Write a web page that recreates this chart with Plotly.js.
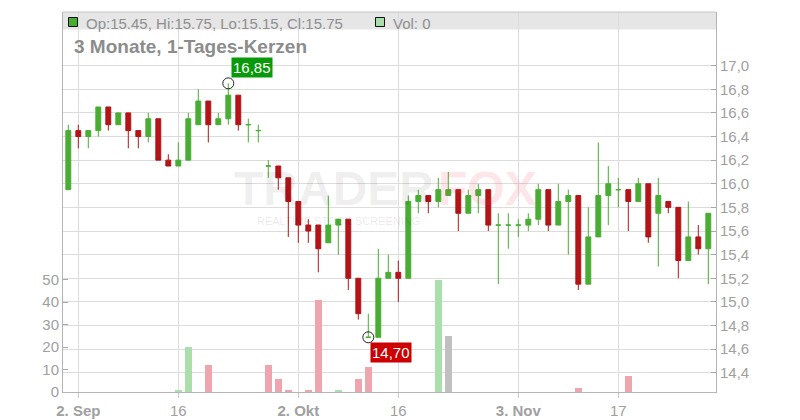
<!DOCTYPE html>
<html>
<head>
<meta charset="utf-8">
<script src="https://cdn.plot.ly/plotly-3.0.1.min.js"></script>
<style>html,body{margin:0;padding:0;background:#fff;}#chart{width:800px;height:420px;}</style>
</head>
<body>
<div id="chart"></div>
<script>
// ---- data ----
const dates = [
 "2025-09-01","2025-09-02","2025-09-03","2025-09-04","2025-09-05",
 "2025-09-08","2025-09-09","2025-09-10","2025-09-11","2025-09-12",
 "2025-09-15","2025-09-16","2025-09-17","2025-09-18","2025-09-19",
 "2025-09-22","2025-09-23","2025-09-24","2025-09-25","2025-09-26",
 "2025-09-29","2025-09-30","2025-10-01","2025-10-02","2025-10-03",
 "2025-10-06","2025-10-07","2025-10-08","2025-10-09","2025-10-10",
 "2025-10-13","2025-10-14","2025-10-15","2025-10-16","2025-10-17",
 "2025-10-20","2025-10-21","2025-10-22","2025-10-23","2025-10-24",
 "2025-10-27","2025-10-28","2025-10-29","2025-10-30","2025-10-31",
 "2025-11-03","2025-11-04","2025-11-05","2025-11-06","2025-11-07",
 "2025-11-10","2025-11-11","2025-11-12","2025-11-13","2025-11-14",
 "2025-11-17","2025-11-18","2025-11-19","2025-11-20","2025-11-21",
 "2025-11-24","2025-11-25","2025-11-26","2025-11-27","2025-11-28"];
const opens = [15.95,16.45,16.4,16.45,16.65,16.5,16.6,16.45,16.4,16.55,
 16.2,16.15,16.2,16.5,16.7,16.5,16.55,16.75,16.5,16.45,
 16.15,16.15,16.05,15.85,15.65,15.65,15.5,15.65,15.7,15.2,
 14.7,14.7,15.2,15.25,15.2,15.85,15.9,15.85,15.9,15.95,
 15.75,15.9,15.95,15.65,15.65,15.65,15.65,15.7,15.95,15.65,
 15.85,15.9,15.15,15.55,15.9,15.95,15.95,15.85,16.0,15.75,
 15.85,15.8,15.35,15.55,15.45];
const highs = [16.5,16.5,16.45,16.65,16.65,16.6,16.6,16.45,16.6,16.55,
 16.25,16.35,16.6,16.8,16.7,16.6,16.85,16.75,16.55,16.5,
 16.2,16.15,16.05,15.85,15.7,15.65,15.9,15.7,15.7,15.2,
 14.9,15.45,15.4,15.35,15.9,15.95,15.9,16.05,16.1,15.95,
 15.95,16.0,15.95,15.75,15.75,15.7,15.75,16.0,15.95,16.0,
 15.95,15.9,15.8,16.35,16.15,16.05,15.95,16.05,16.0,16.05,
 15.85,15.8,15.85,15.65,15.75];
const lows = [15.95,16.3,16.3,16.4,16.45,16.5,16.3,16.3,16.35,16.2,
 16.15,16.15,16.2,16.5,16.35,16.5,16.5,16.45,16.35,16.35,
 16.05,15.95,15.55,15.5,15.5,15.25,15.5,15.4,15.1,14.85,
 14.7,14.7,15.2,15.0,15.2,15.75,15.75,15.8,15.9,15.6,
 15.75,15.75,15.6,15.15,15.45,15.55,15.6,15.65,15.6,15.65,
 15.4,15.1,15.15,15.55,15.65,15.8,15.6,15.85,15.5,15.3,
 15.75,15.2,15.35,15.4,15.15];
const closes = [16.45,16.4,16.45,16.65,16.5,16.6,16.45,16.4,16.55,16.2,
 16.15,16.2,16.55,16.7,16.5,16.55,16.75,16.5,16.5,16.45,
 16.15,16.05,15.85,15.65,15.6,15.45,15.65,15.7,15.2,14.9,
 14.7,15.2,15.25,15.2,15.85,15.9,15.85,15.95,15.95,15.75,
 15.9,15.95,15.65,15.65,15.65,15.65,15.7,15.95,15.65,15.85,
 15.9,15.15,15.55,15.9,16.0,15.95,15.85,16.0,15.55,15.9,
 15.8,15.35,15.55,15.45,15.75];
const volumes = [0,0,0,0,0,0,0,0,0,0,
 0,1,20,0,12,0,0,0,0,0,
 12,6,1,0,1,41,0,1,0,6,
 11,0,0,0,0,0,0,50,25,0,
 0,0,0,0,0,0,0,0,0,0,
 0,2,0,0,0,0,7,0,0,0,
 0,0,0,0,0];
const xTickIdx = [1, 11, 23, 33, 45, 55];
const xTickLabels = ["2. Sep", "16", "2. Okt", "16", "3. Nov", "17"];
const xTickIsMonth = [true, false, true, false, true, false];
const priceTicks = [14.4,14.6,14.8,15.0,15.2,15.4,15.6,15.8,16.0,16.2,16.4,16.6,16.8,17.0];
const volTicks = [0,10,20,30,40,50];
const chartTitle = "3 Monate, 1-Tages-Kerzen";
const hiIdx = 16, loIdx = 30;

// ---- styles ----
const GREEN = "#49ad33", RED = "#b21417";
const VGREEN = "#aadeaa", VRED = "#eea5ad", VGRAY = "#c0c0c0";
const GRID = "#dcdcdc", AXIS = "#b4b4b4", TXT = "#a0a0a0";
const FONT = "'Liberation Sans', Arial, sans-serif";

function pick(cond) {
  const o = {x:[],open:[],high:[],low:[],close:[]};
  dates.forEach((d,i)=>{ if(cond(i)){o.x.push(d);o.open.push(opens[i]);o.high.push(highs[i]);o.low.push(lows[i]);o.close.push(closes[i]);} });
  return o;
}
const up = pick(i => closes[i] >= opens[i]);
const dn = pick(i => closes[i] < opens[i]);
function candle(d, col){
  return Object.assign({type:'candlestick', xaxis:'x', yaxis:'y', whiskerwidth:0,
    increasing:{line:{color:col,width:1}, fillcolor:col},
    decreasing:{line:{color:col,width:1}, fillcolor:col},
    hoverinfo:'skip', showlegend:false}, d);
}
const volColors = volumes.map((v,i)=> i===0 ? VGREEN : (closes[i]>closes[i-1] ? VGREEN : (closes[i]<closes[i-1] ? VRED : VGRAY)));
const fmt = v => v.toFixed(2).replace('.', ',');

const traces = [
  {type:'bar', x:dates, y:volumes, yaxis:'y2', marker:{color:volColors, line:{width:0}}, width:0.67, hoverinfo:'skip', showlegend:false},
  candle(up, GREEN),
  candle(dn, RED),
  {type:'scatter', mode:'markers', x:[dates[hiIdx], dates[loIdx]], y:[highs[hiIdx], lows[loIdx]],
   marker:{symbol:'circle-open', size:11, color:'#222', line:{width:1, color:'#222'}}, hoverinfo:'skip', showlegend:false}
];

const last = dates.length - 1;
const legendText = "Op:" + opens[last].toFixed(2) + ", Hi:" + highs[last].toFixed(2) + ", Lo:" + lows[last].toFixed(2) + ", Cl:" + closes[last].toFixed(2);

const layout = {
  width:800, height:420,
  margin:{l:63, r:84, t:12, b:28, pad:0},
  paper_bgcolor:'#fff', plot_bgcolor:'#fff',
  font:{family:FONT, color:TXT, size:15},
  showlegend:false, bargap:0,
  xaxis:{type:'category', categoryorder:'array', categoryarray:dates, range:[-0.53, 64.77],
    tickvals:xTickIdx.map(i=>dates[i]),
    ticktext:xTickLabels.map((t,k)=> xTickIsMonth[k] ? '<b>'+t+'</b>' : t),
    showgrid:true, gridcolor:GRID, gridwidth:1, ticks:'outside', ticklen:5, tickcolor:'#c8c8c8',
    showline:true, linecolor:AXIS, linewidth:1, zeroline:false, rangeslider:{visible:false},
    tickfont:{size:15, color:TXT, family:FONT}, fixedrange:true},
  yaxis:{side:'right', range:[14.237, 17.454], tickvals:priceTicks, ticktext:priceTicks.map(v=>v.toFixed(1).replace('.',',')),
    showgrid:true, gridcolor:GRID, gridwidth:1, ticks:'inside', ticklen:5, tickcolor:'#a8a8a8',
    showline:true, linecolor:AXIS, linewidth:1, zeroline:false, tickfont:{size:15, color:TXT, family:FONT}},
  yaxis2:{overlaying:'y', side:'left', range:[0, 169.3], tickvals:volTicks, ticktext:volTicks.map(String),
    showgrid:false, ticks:'inside', ticklen:5, tickcolor:'#a8a8a8',
    showline:true, linecolor:AXIS, linewidth:1, zeroline:false, tickfont:{size:15, color:TXT, family:FONT}},
  shapes:[
    {type:'rect', layer:'below', xref:'paper', x0:0, x1:1, yref:'paper', ysizemode:'pixel', yanchor:1, y0:-17.5, y1:0,
     fillcolor:'#e6e6e6', line:{width:0}},
    {type:'line', layer:'above', xref:'paper', x0:0, x1:1, yref:'paper', y0:1, y1:1, line:{color:'#c4c4c4', width:1}},
    {type:'rect', layer:'above', xref:'paper', xsizemode:'pixel', xanchor:0, x0:5.5, x1:14.5,
     yref:'paper', ysizemode:'pixel', yanchor:1, y0:-14.5, y1:-5.5, fillcolor:GREEN, line:{color:'#111', width:1}},
    {type:'rect', layer:'above', xref:'paper', xsizemode:'pixel', xanchor:0, x0:312.5, x1:321.5,
     yref:'paper', ysizemode:'pixel', yanchor:1, y0:-14.5, y1:-5.5, fillcolor:VGREEN, line:{color:'#111', width:1}}
  ],
  annotations:[
    {xref:'paper', yref:'paper', x:0.571, y:0.5362, xanchor:'right', yanchor:'middle', showarrow:false,
     text:"TRADER", font:{family:FONT, size:48, color:'rgba(0,0,0,0.075)', weight:'bold'}},
    {xref:'paper', yref:'paper', x:0.571, y:0.5362, xanchor:'left', yanchor:'middle', showarrow:false,
     text:"FOX", font:{family:FONT, size:48, color:'rgba(240,60,80,0.15)', weight:'bold'}},
    {xref:'paper', yref:'paper', x:0.422, y:0.4504, xanchor:'center', yanchor:'middle', showarrow:false,
     text:"REALTIME STOCK SCREENING", font:{family:FONT, size:11, color:'rgba(0,0,0,0.1)'}},
    {xref:'paper', yref:'paper', x:0.0322, y:1, xanchor:'left', yanchor:'top', yshift:-0.5, showarrow:false,
     text:legendText, font:{family:FONT, size:15, color:'#8f8f8f'}},
    {xref:'paper', yref:'paper', x:0.5023, y:1, xanchor:'left', yanchor:'top', yshift:-0.5, showarrow:false,
     text:"Vol: " + volumes[last], font:{family:FONT, size:15, color:'#8f8f8f'}},
    {xref:'paper', yref:'paper', x:0.0138, y:0.908, xanchor:'left', yanchor:'middle', showarrow:false,
     text:'<b>'+chartTitle+'</b>', font:{family:FONT, size:19, color:'#8c8c8c'}},
    {xref:'x', yref:'y', x:dates[hiIdx], y:highs[hiIdx], xanchor:'left', yanchor:'bottom', xshift:3, yshift:5, showarrow:false,
     text:fmt(highs[hiIdx]), bgcolor:'#0a990a', borderpad:1, font:{family:FONT, size:15, color:'#fff'}},
    {xref:'x', yref:'y', x:dates[loIdx], y:lows[loIdx], xanchor:'left', yanchor:'top', xshift:2, yshift:-5, showarrow:false,
     text:fmt(lows[loIdx]), bgcolor:'#cc0000', borderpad:1, font:{family:FONT, size:15, color:'#fff'}}
  ]
};

Plotly.newPlot('chart', traces, layout, {staticPlot:true, displayModeBar:false});
</script>
</body>
</html>
